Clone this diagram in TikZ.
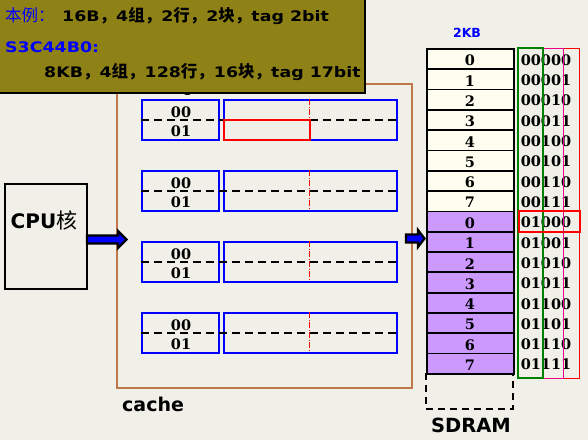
\documentclass[tikz,border=0pt]{standalone}
\usepackage{fontspec}
\setmainfont{DejaVu Sans}
\newfontfamily\vfont[FakeStretch=1.2]{DejaVu Sans}
\newfontfamily\cjk{Noto Sans CJK SC}
\newfontfamily\dserif{DejaVu Serif}
\newcommand\cj[1]{{\cjk\fontsize{16.5}{18}\selectfont #1}}
\definecolor{bgc}{RGB}{240,239,232}
\definecolor{olivebox}{RGB}{142,129,22}
\definecolor{cacheor}{RGB}{192,120,72}
\definecolor{cream}{RGB}{253,253,240}
\definecolor{lilac}{RGB}{204,153,255}
\definecolor{dgreen}{RGB}{0,128,0}
\tikzset{
  tagbox/.style={draw=blue, line width=1.7pt, minimum width=77pt, minimum height=40pt, inner sep=0pt, anchor=north west},
  databox/.style={draw=blue, line width=1.7pt, minimum width=173pt, minimum height=40pt, inner sep=0pt, anchor=north west},
  midline/.style={black, line width=1.5pt, dash pattern=on 8pt off 5pt},
  splitline/.style={red, line width=1pt, dash pattern=on 6pt off 1.5pt on 1pt off 1.5pt},
  digit/.style={font=\dserif\bfseries\fontsize{14.5}{16}\selectfont, inner sep=0pt},
  rowbox/.style={draw=black, line width=1.8pt, minimum width=87pt, minimum height=20.3125pt, inner sep=0pt, anchor=north west},
  blockarrow/.style={fill=blue, draw=black, line width=2.2pt, line join=miter},
  notetext/.style={anchor=base west, inner sep=0pt, font=\vfont\bfseries\fontsize{14.5}{16}\selectfont},
}
\begin{document}
\begin{tikzpicture}[x=1pt,y=-1pt]
\useasboundingbox (0,0) rectangle (588,440);
\fill[bgc] (0,0) rectangle (588,440);

% cache outline
\node[draw=cacheor, line width=2pt, minimum width=295pt, minimum height=304pt, inner sep=0pt, anchor=north west] (cache) at (116,83) {};
\node[font=\bfseries\fontsize{19}{21}\selectfont, anchor=base west, inner sep=0pt] (cachelbl) at (122,411) {cache};

% hidden tag label
\node[font=\bfseries\fontsize{14}{16}\selectfont, anchor=base, inner sep=0pt] (taglbl) at (180,92) {tag};

% cache sets
\foreach \i/\yy in {0/99,1/170,2/241,3/312} {
  \node[tagbox] (tag\i) at (141,\yy) {};
  \node[databox] (data\i) at (223,\yy) {};
  \draw[splitline] (309,\yy) -- (309,\yy+40);
  \draw[midline] (tag\i.west) -- (data\i.east);
  \node[digit] (ta\i) at (181,\yy+13) {00};
  \node[digit] (tb\i) at (181,\yy+32) {01};
}
\node[draw=red, line width=1.7pt, minimum width=86pt, minimum height=20pt, inner sep=0pt, anchor=north west] (hit) at (223,119) {};

% CPU
\node[draw=black, line width=2pt, minimum width=82pt, minimum height=105pt, inner sep=0pt, anchor=north west] (cpu) at (4,183) {};
\node[anchor=base, inner sep=0pt, font=\bfseries\fontsize{20}{22}\selectfont] (cpulbl) at (44,228) {CPU{\cjk\mdseries\fontsize{21}{22}\selectfont 核}};

% arrows
\draw[blockarrow] (87,235.5) -- (118,235.5) -- (118,231) -- (126.5,239.5) -- (118,248) -- (118,243.5) -- (87,243.5) -- cycle;
\draw[blockarrow] (406,234.5) -- (418,234.5) -- (418,230) -- (424.5,238.5) -- (418,247) -- (418,242.5) -- (406,242.5) -- cycle;

% SDRAM
\node[font=\bfseries\fontsize{12.5}{14}\selectfont, text=blue, anchor=base, inner sep=0pt] (kb) at (467,37) {2KB};
\draw[black, line width=1.8pt, dash pattern=on 7pt off 5pt] (426,373) -- (426,409) -- (513,409) -- (513,373);
\foreach \k/\ad in {0/00000,1/00001,2/00010,3/00011,4/00100,5/00101,6/00110,7/00111,8/01000,9/01001,10/01010,11/01011,12/01100,13/01101,14/01110,15/01111} {
  \pgfmathsetmacro\yy{48+\k*20.3125}
  \pgfmathtruncatemacro\lab{mod(\k,8)}
  \ifnum\k<8 \def\fc{cream}\else\def\fc{lilac}\fi
  \node[rowbox, fill=\fc] (m\k) at (426,\yy) {};
  \node[digit] (ml\k) at (470,\yy+12.5) {\lab};
  \node[digit] (ad\k) at (546,\yy+12) {\ad};
}
\node[font=\bfseries\fontsize{19.5}{22}\selectfont, anchor=base, inner sep=0pt] (sdram) at (471,432) {SDRAM};

% address field boxes
\draw[red, line width=0.8pt] (518,48) rectangle (579,378);
\draw[magenta, line width=0.8pt] (518,48) rectangle (563,378);
\draw[dgreen, line width=1.8pt] (518,48) rectangle (543,378);
\node[draw=red, line width=2pt, minimum width=61pt, minimum height=21pt, inner sep=0pt, anchor=north west] (addrhit) at (518,210) {};

% note panel
\node[fill=olivebox, minimum width=365pt, minimum height=93pt, inner sep=0pt, anchor=north west] (note) at (0,0) {};
\draw[black, line width=2pt] (note.north east) -- (note.south east) -- (note.south west);
\node[anchor=base west, inner sep=0pt, text=blue, font=\cjk\fontsize{16.5}{18}\selectfont] (n1a) at (5,21) {本例：};
\node[notetext] (n1b) at (62,21) {16B\cj{，}4\cj{组，}2\cj{行，}2\cj{块，}tag 2bit};
\node[notetext, text=blue] (n2) at (5,52) {S3C44B0:};
\node[notetext] (n3) at (44,77.5) {8KB\cj{，}4\cj{组，}128\cj{行，}16\cj{块，}tag 17bit};
\end{tikzpicture}
\end{document}
